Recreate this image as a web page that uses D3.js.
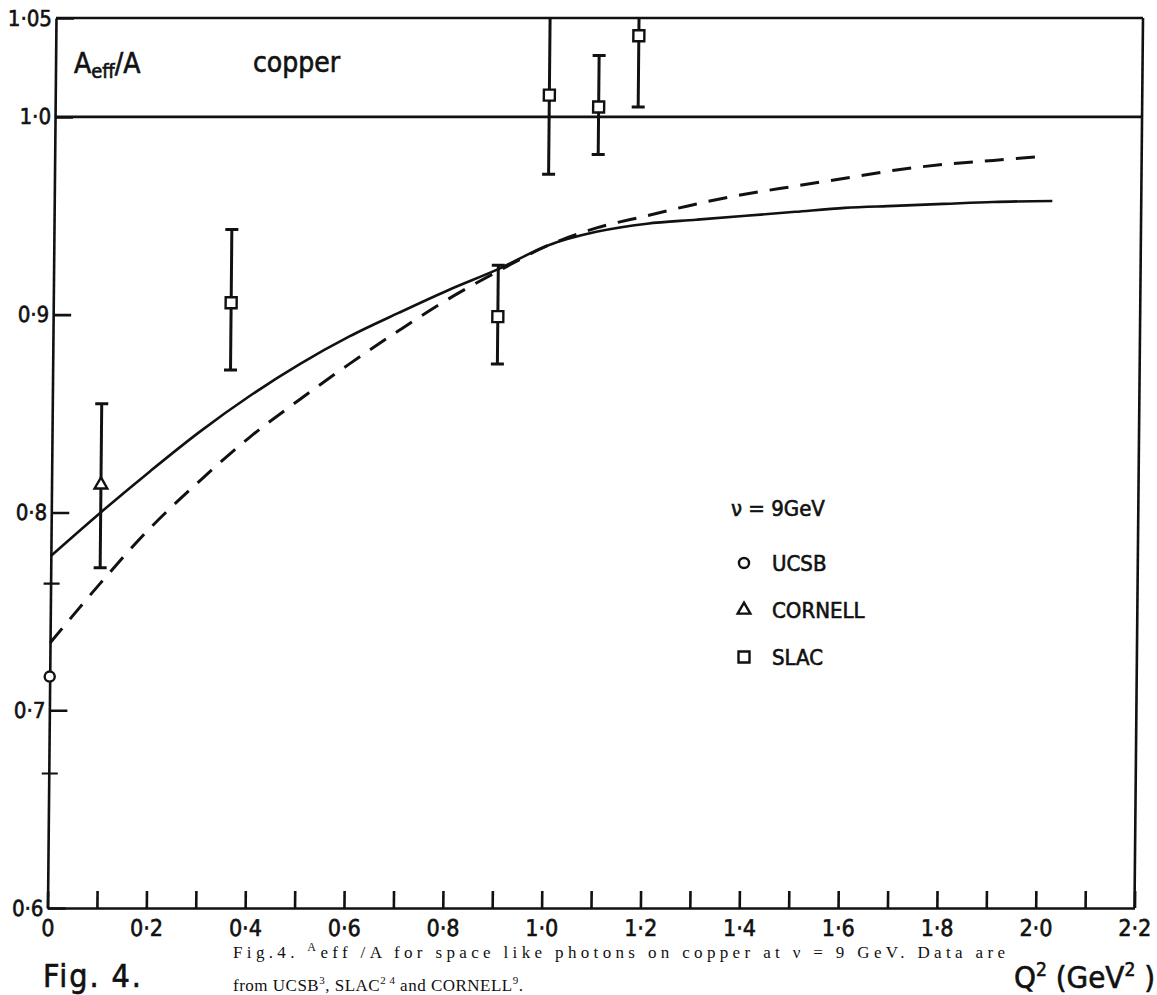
<!DOCTYPE html>
<html>
<head>
<meta charset="utf-8">
<script src="https://cdn.jsdelivr.net/npm/d3@7"></script>
<style>
  body { margin: 0; background: #fff; }
  svg { display: block; }
  .lab { font-family: "DejaVu Sans Condensed", "DejaVu Sans", sans-serif; fill: #111; stroke: #111; stroke-width: 0.6px; }
  .cap { font-family: "Liberation Serif", serif; fill: #111; }
</style>
</head>
<body>
<svg id="chart" width="1157" height="995"></svg>
<script>
// model curves (Q^2 in GeV^2, Aeff/A)
const solidQ = [0, 0.1, 0.2, 0.3, 0.4, 0.5, 0.6, 0.7, 0.8, 0.9, 1.0, 1.1, 1.2, 1.3, 1.4, 1.5, 1.6, 1.7, 1.8, 1.9, 2.02];
const solidA = [0.778, 0.800, 0.821, 0.841, 0.859, 0.875, 0.889, 0.901, 0.9125, 0.923, 0.935, 0.942, 0.946, 0.948, 0.950, 0.952, 0.954, 0.955, 0.956, 0.957, 0.9575];
const dashQ = [0, 0.1, 0.2, 0.3, 0.4, 0.5, 0.6, 0.7, 0.8, 0.9, 1.0, 1.1, 1.2, 1.3, 1.4, 1.5, 1.6, 1.7, 1.8, 1.9, 2.0];
const dashA = [0.734, 0.764, 0.792, 0.816, 0.838, 0.857, 0.875, 0.892, 0.908, 0.922, 0.935, 0.944, 0.950, 0.956, 0.961, 0.965, 0.969, 0.973, 0.976, 0.978, 0.980];

// measurements
const ucsbQ = [0];
const ucsbA = [0.717];
const cornellQ = [0.10];
const cornellA = [0.814];
const cornellLo = [0.772];
const cornellHi = [0.855];
const slacQ = [0.36, 0.90, 1.00, 1.10, 1.18];
const slacA = [0.906, 0.899, 1.011, 1.005, 1.041];
const slacLo = [0.872, 0.875, 0.971, 0.981, 1.005];
const slacHi = [0.943, 0.925, 1.05, 1.031, 1.05];   // 1.05 = bar runs into the frame

// ticks
const xLabelVals = [0, 0.2, 0.4, 0.6, 0.8, 1.0, 1.2, 1.4, 1.6, 1.8, 2.0, 2.2];
const xTickLabels = ["0", "0·2", "0·4", "0·6", "0·8", "1·0", "1·2", "1·4", "1·6", "1·8", "2·0", "2·2"];
const xMinorTicks = [0.1, 0.3, 0.5, 0.7, 0.9, 1.1, 1.3, 1.5, 1.7, 1.9, 2.1];
const yTickVals = [1.05, 1.0, 0.9, 0.8, 0.7, 0.6];
const yTickLabels = ["1·05", "1·0", "0·9", "0·8", "0·7", "0·6"];
const yCrossTicks = [0.764, 0.668];

const legendNames = ["UCSB", "CORNELL", "SLAC"];
const legendSymbols = ["circle", "triangle", "square"];

const W = 1087, H = 890;
const svg = d3.select("#chart");
// the scan is slightly sheared; reproduce with a small skew
const g = svg.append("g").attr("transform", "translate(56,18) skewX(-0.547)");

const x = d3.scaleLinear().domain([0, 2.2]).range([0, W]);
const y = d3.scaleLinear().domain([0.6, 1.05]).range([H, 0]);

const symPath = {
  circle: d3.symbol().type(d3.symbolCircle).size(80),
  triangle: d3.symbol().type(d3.symbolTriangle).size(70),
  square: d3.symbol().type(d3.symbolSquare).size(121)
};

// x axis
const xAxis = g.append("g")
  .attr("transform", "translate(0," + H + ")")
  .call(d3.axisBottom(x)
    .tickValues(xLabelVals.concat(xMinorTicks))
    .tickSizeInner(-17).tickSizeOuter(0).tickPadding(12)
    .tickFormat(d => { const i = xLabelVals.indexOf(d); return i < 0 ? "" : xTickLabels[i]; }));
xAxis.select(".domain").attr("stroke", "#111").attr("stroke-width", 2.6);
xAxis.selectAll(".tick line").attr("stroke", "#111").attr("stroke-width", 2.6);
xAxis.selectAll(".tick text").attr("class", "lab").style("font-size", "23px");

// y axis
const yAxis = g.append("g")
  .call(d3.axisLeft(y)
    .tickValues(yTickVals)
    .tickSizeInner(-18).tickSizeOuter(0).tickPadding(4)
    .tickFormat((d, i) => yTickLabels[i]));
yAxis.select(".domain").attr("stroke", "#111").attr("stroke-width", 2.6);
yAxis.selectAll(".tick line").attr("stroke", "#111").attr("stroke-width", 2.6);
yAxis.selectAll(".tick text").attr("class", "lab").style("font-size", "22px");

// little crossing ticks on the left axis
g.selectAll(".cross").data(yCrossTicks).enter().append("line")
  .attr("x1", -7).attr("x2", 9)
  .attr("y1", d => y(d)).attr("y2", d => y(d))
  .attr("stroke", "#111").attr("stroke-width", 2.2);

// frame: top, right, and the A/A = 1 line
[1.05, 1.0].forEach(v => {
  g.append("line").attr("x1", 0).attr("x2", x(2.2))
    .attr("y1", y(v)).attr("y2", y(v))
    .attr("stroke", "#111").attr("stroke-width", 2.6);
});
g.append("line").attr("x1", x(2.2)).attr("x2", x(2.2))
  .attr("y1", y(1.05)).attr("y2", y(0.6))
  .attr("stroke", "#111").attr("stroke-width", 2.6);

// model curves
const line = d3.line().x(d => x(d[0])).y(d => y(d[1])).curve(d3.curveCatmullRom);
g.append("path").datum(d3.zip(solidQ, solidA))
  .attr("d", line).attr("fill", "none").attr("stroke", "#111").attr("stroke-width", 2.6);
g.append("path").datum(d3.zip(dashQ, dashA))
  .attr("d", line).attr("fill", "none").attr("stroke", "#111").attr("stroke-width", 3)
  .attr("stroke-dasharray", "19,12");

// error bars
const bars = d3.zip(cornellQ, cornellLo, cornellHi).concat(d3.zip(slacQ, slacLo, slacHi));
const eb = g.selectAll(".eb").data(bars).enter().append("g");
eb.append("line")
  .attr("x1", d => x(d[0])).attr("x2", d => x(d[0]))
  .attr("y1", d => y(d[1])).attr("y2", d => y(Math.min(d[2], 1.05)))
  .attr("stroke", "#111").attr("stroke-width", 3);
eb.append("line")
  .attr("x1", d => x(d[0]) - 6.5).attr("x2", d => x(d[0]) + 6.5)
  .attr("y1", d => y(d[1])).attr("y2", d => y(d[1]))
  .attr("stroke", "#111").attr("stroke-width", 3);
eb.filter(d => d[2] < 1.05).append("line")
  .attr("x1", d => x(d[0]) - 6.5).attr("x2", d => x(d[0]) + 6.5)
  .attr("y1", d => y(d[2])).attr("y2", d => y(d[2]))
  .attr("stroke", "#111").attr("stroke-width", 3);

// markers
function markers(qs, as, sym) {
  g.selectAll(".m-" + sym).data(d3.zip(qs, as)).enter().append("path")
    .attr("d", symPath[sym]())
    .attr("transform", d => "translate(" + x(d[0]) + "," + y(d[1]) + ")")
    .attr("fill", "#fff").attr("stroke", "#111").attr("stroke-width", 2.4);
}
markers(ucsbQ, ucsbA, "circle");
markers(cornellQ, cornellA, "triangle");
markers(slacQ, slacA, "square");

// legend
svg.append("text").attr("class", "lab").attr("x", 731).attr("y", 516)
  .style("font-size", "22px").text("ν = 9GeV");
const leg = svg.selectAll(".leg").data(legendNames).enter().append("g")
  .attr("transform", (d, i) => "translate(744," + (563 + i * 47) + ")");
leg.append("path")
  .attr("d", (d, i) => symPath[legendSymbols[i]]())
  .attr("fill", "#fff").attr("stroke", "#111").attr("stroke-width", 2.4);
leg.append("text").attr("class", "lab").attr("x", 28).attr("y", 8)
  .style("font-size", "22px").text(d => d);

// titles inside the frame
const t1 = svg.append("text").attr("class", "lab").attr("x", 74).attr("y", 73).style("font-size", "28px");
t1.append("tspan").text("A");
t1.append("tspan").attr("dy", 5).style("font-size", "20px").text("eff");
t1.append("tspan").attr("dy", -5).text("/A");
svg.append("text").attr("class", "lab").attr("x", 253).attr("y", 72)
  .style("font-size", "28px").text("copper");

// bottom labels
svg.append("text").attr("class", "lab").attr("x", 43).attr("y", 987)
  .style("font-size", "32px").attr("textLength", 98).attr("lengthAdjust", "spacing").text("Fig.  4.");
const qt = svg.append("text").attr("class", "lab").attr("x", 1014).attr("y", 988).style("font-size", "31px");
qt.append("tspan").text("Q");
qt.append("tspan").attr("dy", -12).style("font-size", "19px").text("2");
qt.append("tspan").attr("dy", 12).text(" (GeV");
qt.append("tspan").attr("dy", -12).style("font-size", "19px").text("2");
qt.append("tspan").attr("dy", 12).text(" )");

// caption
const c1 = svg.append("text").attr("class", "cap").attr("x", 233).attr("y", 958).style("font-size", "17px");
c1.append("tspan").text("Fig.4.  ");
c1.append("tspan").attr("dy", -7).style("font-size", "12px").text("A");
c1.append("tspan").attr("dy", 7).text("eff /A for space like photons on copper at ν = 9 GeV. Data are");
c1.attr("textLength", 772).attr("lengthAdjust", "spacing");
const c2 = svg.append("text").attr("class", "cap").attr("x", 233).attr("y", 991).style("font-size", "17px");
c2.append("tspan").text("from UCSB");
c2.append("tspan").attr("dy", -7).style("font-size", "11px").text("3");
c2.append("tspan").attr("dy", 7).text(", SLAC");
c2.append("tspan").attr("dy", -7).style("font-size", "11px").text("2 4");
c2.append("tspan").attr("dy", 7).text(" and CORNELL");
c2.append("tspan").attr("dy", -7).style("font-size", "11px").text("9");
c2.append("tspan").attr("dy", 7).text(".");
c2.attr("textLength", 290).attr("lengthAdjust", "spacing");
</script>
</body>
</html>
